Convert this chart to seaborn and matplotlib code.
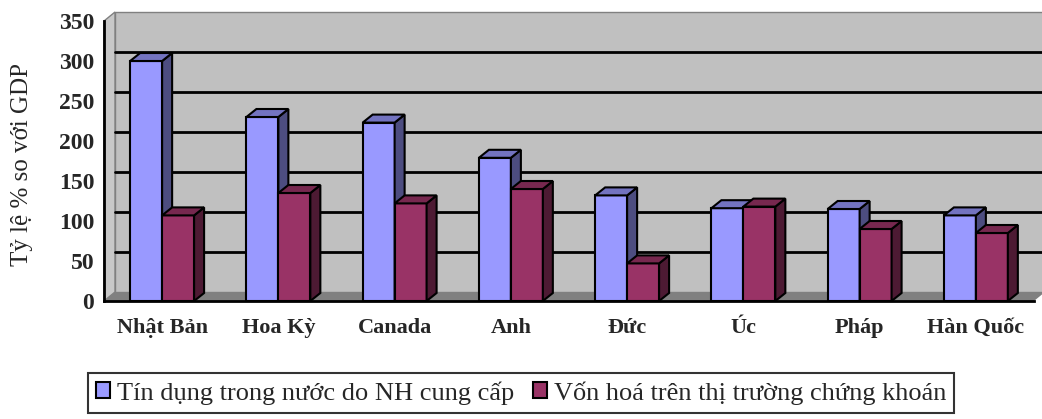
import numpy as np
import pandas as pd
import matplotlib
matplotlib.use("Agg")
import matplotlib.pyplot as plt
from matplotlib.patches import Polygon, Patch
import seaborn as sns

categories = ["Nhật Bản", "Hoa Kỳ", "Canada", "Anh", "Đức", "Úc", "Pháp", "Hàn Quốc"]
series_names = ["Tín dụng trong nước do NH cung cấp", "Vốn hoá trên thị trường chứng khoán"]
credit = [300, 230, 223, 179, 132, 116, 115, 107]
market_cap = [107, 135, 122, 140, 47, 118, 90, 85]
y_ticks = [0, 50, 100, 150, 200, 250, 300, 350]

face_colors = ["#9999FF", "#993366"]
top_colors = ["#7373C0", "#77284F"]
side_colors = ["#4D4D80", "#4D1A33"]

df = pd.DataFrame({
    "country": categories * 2,
    "series": [series_names[0]] * len(categories) + [series_names[1]] * len(categories),
    "value": credit + market_cap,
})

sns.set_style("white")
plt.rcParams["font.family"] = ["Liberation Serif", "DejaVu Serif"]

W, H = 1042, 419
fig = plt.figure(figsize=(W / 100, H / 100), dpi=100)
ax_left, ax_right, ax_bot, ax_top = 104, 1034, 301, 21
ax = fig.add_axes([ax_left / W, 1 - ax_bot / H, (ax_right - ax_left) / W, (ax_bot - ax_top) / H])
ax.set_xlim(-0.5, len(categories) - 0.5)
ax.set_ylim(0, 350)
ax.patch.set_visible(False)

px_x = (len(categories)) / (ax_right - ax_left)  # data units per px in x
px_y = 350 / (ax_bot - ax_top)

# walls
wdx, wdy = 11 * px_x, 9 * px_y
x0, x1 = -0.5, len(categories) - 0.5
wall = Polygon([(x0 + wdx, wdy), (x1 + wdx + 1, wdy), (x1 + wdx + 1, 350 + wdy), (x0 + wdx, 350 + wdy)],
               closed=True, facecolor="#C0C0C0", edgecolor="#808080", lw=1, zorder=0.1, clip_on=False)
ax.add_patch(wall)
lwall = Polygon([(x0, 0), (x0 + wdx, wdy), (x0 + wdx, 350 + wdy), (x0, 350)],
                closed=True, facecolor="#C8C8C8", edgecolor="#808080", lw=1, zorder=0.2, clip_on=False)
ax.add_patch(lwall)
floor = Polygon([(x0, 0), (x1, 0), (x1 + wdx, wdy), (x0 + wdx, wdy)],
                closed=True, facecolor="#808080", edgecolor="none", zorder=0.3, clip_on=False)
ax.add_patch(floor)
for v in y_ticks[1:-1]:
    ax.plot([x0 + wdx, x1 + wdx + 1], [v + wdy, v + wdy], color="black", lw=2, zorder=0.5, clip_on=False)

sns.barplot(data=df, x="country", y="value", hue="series", order=categories, hue_order=series_names,
            palette=face_colors, width=0.55, edgecolor="black", linewidth=1.5, legend=False, ax=ax,
            saturation=1)

bdx, bdy = 10 * px_x, 8 * px_y
for i, cont in enumerate(ax.containers):
    z = 2 + i
    for rect in cont:
        rect.set_zorder(z)
        bx, bw, bh = rect.get_x(), rect.get_width(), rect.get_height()
        top = Polygon([(bx, bh), (bx + bw, bh), (bx + bw + bdx, bh + bdy), (bx + bdx, bh + bdy)],
                      closed=True, facecolor=top_colors[i], edgecolor="black", lw=1.5, zorder=z, clip_on=False)
        side = Polygon([(bx + bw, 0), (bx + bw + bdx, bdy), (bx + bw + bdx, bh + bdy), (bx + bw, bh)],
                       closed=True, facecolor=side_colors[i], edgecolor="black", lw=1.5, zorder=z, clip_on=False)
        ax.add_patch(side)
        ax.add_patch(top)

ax.set_xlabel("")
ax.set_ylabel("")
ax.set_yticks(y_ticks)
ax.set_yticklabels([str(t) for t in y_ticks], fontsize=17, fontweight="bold")
ax.set_xticks(np.arange(-0.5, len(categories), 1))
ax.set_xticklabels([])
ax.set_xticks(np.arange(len(categories)), minor=True)
ax.set_xticklabels(categories, minor=True, fontsize=16, fontweight="bold")
ax.tick_params(axis="x", which="major", direction="out", length=5, width=1.5, color="black")
ax.tick_params(axis="x", which="minor", length=0, pad=12)
ax.tick_params(axis="y", direction="out", length=5, width=2, color="black", pad=2)
for s in ["top", "right"]:
    ax.spines[s].set_visible(False)
for s in ["left", "bottom"]:
    ax.spines[s].set_color("black")
    ax.spines[s].set_linewidth(2)
    ax.spines[s].set_zorder(6)

fig.text(22 / W, 1 - 164 / H, "Tỷ lệ % so với GDP", rotation=90, ha="center", va="center", fontsize=18)

handles = [Patch(facecolor=c, edgecolor="black", lw=1.5) for c in face_colors]
leg = fig.legend(handles, series_names, loc="center", bbox_to_anchor=(521 / W, 1 - 393 / H), ncol=2,
                 frameon=True, fancybox=False, edgecolor="black", fontsize=19, handlelength=0.55,
                 handleheight=0.55, handletextpad=0.25, columnspacing=0.7, borderpad=0.3)
leg.get_frame().set_linewidth(1.5)

fig.savefig("out.png", dpi=100)
